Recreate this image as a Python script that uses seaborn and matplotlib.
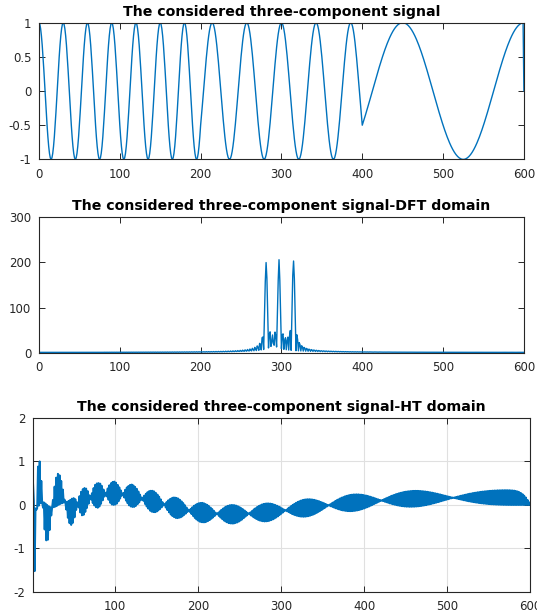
import numpy as np
import matplotlib
matplotlib.use("Agg")
import matplotlib.pyplot as plt
import seaborn as sns

# three pieces of the signal
seg_start = [0, 200, 400]
seg_stop = [200, 400, 600]
cycles_per_600 = [20, 14, 4]     # periods ~30, ~43, ~150 samples
spectrum_sign = [-1, 1, -1]      # which side of centre the DFT peak sits (281, 315, 297)
n_samples = 600

titles = ['The considered three-component signal',
          'The considered three-component signal-DFT domain',
          'The considered three-component signal-HT domain']
x_ticks = [0, 100, 200, 300, 400, 500, 600]
ht_xticks = [100, 200, 300, 400, 500, 600]
sig_yticks = [-1, -0.5, 0, 0.5, 1]
dft_yticks = [0, 100, 200, 300]
ht_yticks = [-2, -1, 0, 1, 2]

blue = '#0072BD'
dark = '#262626'

n = np.arange(n_samples)
sig = np.zeros(n_samples, dtype=complex)
for a, b, k, s in zip(seg_start, seg_stop, cycles_per_600, spectrum_sign):
    sig[a:b] = np.exp(1j * s * 2 * np.pi * k * n[a:b] / n_samples)

# DFT, centred
dft = np.abs(np.fft.fftshift(np.fft.fft(sig)))

# discrete Hermite transform: nodes = roots of H_N
N = n_samples
off = np.sqrt(np.arange(1, N) / 2.0)
nodes = np.linalg.eigvalsh(np.diag(off, 1) + np.diag(off, -1))
psi = np.zeros((N, N))
psi[0] = np.pi ** -0.25 * np.exp(-nodes ** 2 / 2)
psi[1] = np.sqrt(2) * nodes * psi[0]
for p in range(2, N):
    psi[p] = np.sqrt(2.0 / p) * nodes * psi[p - 1] - np.sqrt((p - 1) / p) * psi[p - 2]
ht = psi @ (sig.real / (N * psi[N - 1] ** 2))

sns.set_style('ticks')
plt.rcParams['font.family'] = ['DejaVu Sans']

fig = plt.figure(figsize=(5.37, 6.13), dpi=100)
ax1 = fig.add_axes([0.0726, 0.740, 0.903, 0.223])
ax2 = fig.add_axes([0.0726, 0.4246, 0.903, 0.2209])
ax3 = fig.add_axes([0.0615, 0.0343, 0.9255, 0.2838])

sns.lineplot(x=np.arange(n_samples + 1), y=np.append(sig.real, 0), ax=ax1,
             color=blue, linewidth=1.0, estimator=None)
sns.lineplot(x=np.arange(1, n_samples + 1), y=dft, ax=ax2,
             color=blue, linewidth=1.0, estimator=None)
sns.lineplot(x=np.arange(1, n_samples + 1), y=ht, ax=ax3,
             color=blue, linewidth=1.4, estimator=None)

ax1.set_xlim(0, 600)
ax1.set_ylim(-1, 1)
ax1.set_xticks(x_ticks)
ax1.set_yticks(sig_yticks)
ax1.set_yticklabels(['-1', '-0.5', '0', '0.5', '1'])
ax2.set_xlim(0, 600)
ax2.set_ylim(0, 300)
ax2.set_xticks(x_ticks)
ax2.set_yticks(dft_yticks)
ax3.set_xlim(1, 600)
ax3.set_ylim(-2, 2)
ax3.set_xticks(ht_xticks)
ax3.set_yticks(ht_yticks)
ax3.set_yticklabels(['-2', '-1', '0', '1', '2'])
ax3.grid(True, color='#e0e0e0', linewidth=0.8)
ax3.set_axisbelow(True)

for ax, t in zip([ax1, ax2, ax3], titles):
    ax.set_title(t, fontsize=10.2, fontweight='bold', pad=5, color='black')
    ax.tick_params(direction='in', top=True, right=True, length=4, width=0.7,
                   labelsize=8.5, colors=dark)
    ax.tick_params(axis='x', pad=6)
    ax.tick_params(axis='y', pad=5.5)
    for sp in ax.spines.values():
        sp.set_visible(True)
        sp.set_color(dark)
        sp.set_linewidth(0.8)
    ax.set_xlabel('')
    ax.set_ylabel('')

fig.savefig('out.png', dpi=100)
